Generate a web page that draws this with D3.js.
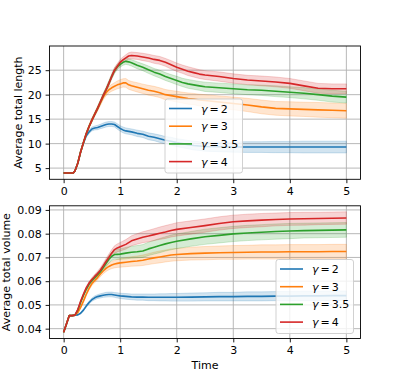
<!DOCTYPE html>
<html>
<head>
<meta charset="utf-8">
<script src="https://cdn.jsdelivr.net/npm/d3@7"></script>
<style>
  body { margin: 0; background: #fff; }
  svg { display: block; font-family: "DejaVu Sans", sans-serif; }
</style>
</head>
<body>
<svg width="399" height="381"></svg>
<script>
// ---- data ----
var gammas = ["2", "3", "3.5", "4"];
var colors = ["#1f77b4", "#ff7f0e", "#2ca02c", "#d62728"];

var tLen = [0, 0.1, 0.17, 0.2, 0.25, 0.3, 0.35, 0.4, 0.45, 0.5, 0.55, 0.6, 0.65, 0.7, 0.75, 0.8, 0.85, 0.9, 0.95, 1.0,
  1.05, 1.1, 1.15, 1.2, 1.3, 1.4, 1.5, 1.6, 1.7, 1.8, 1.9, 2.0, 2.1, 2.2, 2.3, 2.4, 2.5, 2.75, 3.0, 3.25, 3.5, 3.75,
  4.0, 4.25, 4.5, 4.75, 5.0];
var lenG2 = [4, 4, 4, 4.4, 6.0, 8.3, 10.1, 11.6, 12.4, 13.0, 13.2, 13.3, 13.5, 13.7, 13.9, 14.0, 14.0, 13.9, 13.5, 13.1,
  12.8, 12.6, 12.5, 12.4, 12.1, 11.9, 11.5, 11.3, 11.0, 10.7, 10.5, 10.2, 10.0, 9.8, 9.6, 9.5, 9.4, 9.35, 9.3, 9.3, 9.3,
  9.3, 9.3, 9.3, 9.3, 9.3, 9.3];
var lenG3 = [4, 4, 4, 4.4, 6.0, 8.3, 10.2, 12.0, 13.5, 14.8, 16.0, 17.1, 18.3, 19.5, 20.4, 21.0, 21.4, 21.7, 22.0, 22.2,
  22.4, 22.4, 22.0, 21.8, 21.5, 21.2, 20.9, 20.7, 20.4, 20.0, 19.8, 19.6, 19.4, 19.2, 19.1, 18.9, 18.8, 18.5, 18.2, 17.9,
  17.5, 17.2, 17.1, 17.0, 16.9, 16.8, 16.7];
var lenG35 = [4, 4, 4, 4.4, 6.0, 8.3, 10.2, 12.0, 13.5, 14.8, 16.0, 17.2, 18.5, 19.8, 21.0, 22.3, 23.7, 24.9, 25.7, 26.2,
  26.6, 26.8, 26.7, 26.5, 26.0, 25.6, 25.1, 24.6, 24.2, 23.7, 23.3, 22.9, 22.5, 22.2, 22.0, 21.8, 21.6, 21.4, 21.2, 21.0,
  20.9, 20.7, 20.5, 20.3, 20.0, 19.7, 19.5];
var lenG4 = [4, 4, 4, 4.4, 6.0, 8.3, 10.2, 12.0, 13.5, 14.8, 16.0, 17.2, 18.5, 19.8, 21.0, 22.3, 23.7, 25.0, 25.8, 26.6,
  27.1, 27.5, 27.9, 28.0, 27.9, 27.7, 27.5, 27.2, 27.0, 26.6, 26.1, 25.6, 25.2, 24.8, 24.5, 24.2, 24.0, 23.7, 23.3, 23.0,
  22.8, 22.6, 22.3, 21.8, 21.3, 21.2, 21.2];
// half width of the shaded band
var errLenG2 = [0.05, 0.05, 0.05, 0.1, 0.15, 0.2, 0.25, 0.3, 0.35, 0.4, 0.4, 0.45, 0.45, 0.5, 0.5, 0.5, 0.5, 0.5, 0.55, 0.55,
  0.6, 0.6, 0.6, 0.6, 0.65, 0.65, 0.7, 0.7, 0.75, 0.75, 0.8, 0.8, 0.85, 0.85, 0.9, 0.9, 0.95, 1.0, 1.05, 1.1, 1.1, 1.15,
  1.15, 1.2, 1.2, 1.2, 1.2];
var errLenG3 = [0.05, 0.05, 0.05, 0.1, 0.15, 0.2, 0.25, 0.3, 0.35, 0.4, 0.4, 0.45, 0.5, 0.55, 0.6, 0.65, 0.7, 0.75, 0.8, 0.85,
  0.85, 0.9, 0.9, 0.9, 0.95, 0.95, 1.0, 1.0, 1.0, 1.05, 1.05, 1.1, 1.1, 1.15, 1.15, 1.2, 1.2, 1.25, 1.3, 1.35, 1.4, 1.4,
  1.45, 1.45, 1.5, 1.5, 1.5];
var errLenG35 = [0.05, 0.05, 0.05, 0.1, 0.15, 0.2, 0.25, 0.3, 0.3, 0.35, 0.35, 0.4, 0.4, 0.45, 0.45, 0.5, 0.5, 0.55, 0.55, 0.6,
  0.6, 0.6, 0.65, 0.65, 0.7, 0.7, 0.75, 0.75, 0.8, 0.8, 0.8, 0.85, 0.85, 0.9, 0.9, 0.9, 0.95, 0.95, 1.0, 1.0, 1.05, 1.1,
  1.1, 1.15, 1.15, 1.2, 1.2];
var errLenG4 = [0.05, 0.05, 0.05, 0.1, 0.15, 0.2, 0.25, 0.3, 0.3, 0.35, 0.35, 0.4, 0.4, 0.45, 0.45, 0.5, 0.5, 0.55, 0.55, 0.6,
  0.6, 0.65, 0.65, 0.7, 0.7, 0.75, 0.75, 0.8, 0.8, 0.8, 0.85, 0.85, 0.85, 0.9, 0.9, 0.9, 0.9, 0.95, 0.95, 0.95, 1.0, 1.0,
  1.0, 1.0, 1.0, 1.0, 1.0];

var tVol = [0, 0.05, 0.1, 0.15, 0.2, 0.25, 0.3, 0.35, 0.4, 0.45, 0.5, 0.55, 0.6, 0.65, 0.7, 0.75, 0.8, 0.85, 0.9, 0.95,
  1.0, 1.1, 1.2, 1.3, 1.4, 1.5, 1.6, 1.7, 1.8, 1.9, 2.0, 2.25, 2.5, 2.75, 3.0, 3.25, 3.5, 3.75, 4.0, 4.25, 4.5, 4.75, 5.0];
var volG2 = [0.0385, 0.042, 0.0455, 0.0455, 0.0457, 0.0458, 0.0465, 0.0478, 0.0495, 0.0510, 0.0522, 0.0530, 0.0535, 0.0538,
  0.0541, 0.0543, 0.0544, 0.0544, 0.0542, 0.0540, 0.0538, 0.0536, 0.0534, 0.0533, 0.0533, 0.0532, 0.0532, 0.0532, 0.0532,
  0.0532, 0.0532, 0.0533, 0.0534, 0.0535, 0.0535, 0.0536, 0.0536, 0.0537, 0.0537, 0.0538, 0.0538, 0.0539, 0.0539];
var volG3 = [0.0385, 0.042, 0.0455, 0.0455, 0.0457, 0.0468, 0.049, 0.0516, 0.0545, 0.0570, 0.0590, 0.0603, 0.0615, 0.0630,
  0.0643, 0.0654, 0.0662, 0.0668, 0.0672, 0.0675, 0.0677, 0.0680, 0.0683, 0.0685, 0.0688, 0.0693, 0.0698, 0.0702, 0.0706,
  0.0710, 0.0712, 0.0716, 0.0718, 0.0720, 0.0721, 0.0722, 0.0723, 0.0723, 0.0724, 0.0724, 0.0724, 0.0725, 0.0725];
var volG35 = [0.0385, 0.042, 0.0455, 0.0455, 0.0457, 0.0478, 0.051, 0.054, 0.0566, 0.0588, 0.0603, 0.0615, 0.0627, 0.0640,
  0.0657, 0.0675, 0.0692, 0.0705, 0.0712, 0.0713, 0.0714, 0.0718, 0.0722, 0.0724, 0.0727, 0.0736, 0.0743, 0.0750, 0.0757,
  0.0763, 0.0768, 0.0778, 0.0787, 0.0793, 0.0799, 0.0803, 0.0806, 0.0809, 0.0811, 0.0813, 0.0814, 0.0815, 0.0816];
var volG4 = [0.0385, 0.042, 0.0455, 0.0455, 0.0457, 0.048, 0.0515, 0.0545, 0.0572, 0.0592, 0.0607, 0.0620, 0.0632, 0.0646,
  0.0664, 0.0683, 0.0700, 0.0718, 0.0733, 0.0740, 0.0745, 0.0755, 0.0770, 0.0778, 0.0785, 0.0790, 0.0796, 0.0802, 0.0807,
  0.0813, 0.0818, 0.0826, 0.0834, 0.0843, 0.0850, 0.0854, 0.0857, 0.0860, 0.0862, 0.0863, 0.0864, 0.0865, 0.0866];
var errVolG2 = [0.0001, 0.0001, 0.0001, 0.0001, 0.0002, 0.0002, 0.0003, 0.0004, 0.0005, 0.0006, 0.0007, 0.0008, 0.0008,
  0.0009, 0.0009, 0.001, 0.001, 0.001, 0.001, 0.0011, 0.0011, 0.0012, 0.0012, 0.0013, 0.0013, 0.0014, 0.0014, 0.0015,
  0.0015, 0.0016, 0.0016, 0.0017, 0.0017, 0.0018, 0.0018, 0.0019, 0.0019, 0.0019, 0.002, 0.002, 0.002, 0.002, 0.002];
var errVolG3 = [0.0001, 0.0001, 0.0001, 0.0001, 0.0002, 0.0003, 0.0004, 0.0005, 0.0006, 0.0007, 0.0008, 0.0009, 0.001,
  0.0011, 0.0012, 0.0013, 0.0014, 0.0015, 0.0016, 0.0017, 0.0018, 0.0019, 0.002, 0.0021, 0.0022, 0.0023, 0.0024, 0.0025,
  0.0025, 0.0026, 0.0026, 0.0027, 0.0028, 0.0028, 0.0029, 0.0029, 0.003, 0.003, 0.003, 0.003, 0.003, 0.003, 0.003];
var errVolG35 = [0.0001, 0.0001, 0.0001, 0.0001, 0.0002, 0.0003, 0.0004, 0.0005, 0.0006, 0.0007, 0.0008, 0.0009, 0.001,
  0.0011, 0.0012, 0.0014, 0.0016, 0.0018, 0.002, 0.0021, 0.0022, 0.0024, 0.0025, 0.0026, 0.0027, 0.0028, 0.0029, 0.003,
  0.003, 0.0031, 0.0031, 0.0031, 0.0032, 0.0032, 0.0032, 0.0032, 0.0032, 0.0032, 0.0032, 0.0031, 0.0031, 0.0031, 0.0031];
var errVolG4 = [0.0001, 0.0001, 0.0001, 0.0001, 0.0002, 0.0003, 0.0004, 0.0005, 0.0006, 0.0007, 0.0008, 0.0009, 0.001,
  0.0011, 0.0012, 0.0013, 0.0014, 0.0015, 0.0016, 0.0017, 0.0018, 0.002, 0.0021, 0.0022, 0.0023, 0.0024, 0.0025, 0.0026,
  0.0027, 0.0027, 0.0028, 0.0028, 0.0028, 0.0028, 0.0028, 0.0028, 0.0028, 0.0027, 0.0027, 0.0027, 0.0026, 0.0026, 0.0026];

var xTicks = [0, 1, 2, 3, 4, 5];
var lenTicks = [5, 10, 15, 20, 25];
var volTicks = [0.04, 0.05, 0.06, 0.07, 0.08, 0.09];

// ---- layout ----
var svg = d3.select("svg");
var left = 49.5, right = 360.5;
var fontSize = 11;

var x = d3.scaleLinear().domain([-0.25, 5.25]).range([left, right]);

function drawPanel(p) {
  var series = p.values.map(function(v, i) {
    return p.times.map(function(t, j) {
      return {t: t, v: v[j], lo: v[j] - p.errs[i][j], hi: v[j] + p.errs[i][j]};
    });
  });

  // matplotlib style 5% padding on the data range
  var lo = d3.min(series, function(s) { return d3.min(s, function(d) { return d.lo; }); });
  var hi = d3.max(series, function(s) { return d3.max(s, function(d) { return d.hi; }); });
  var pad = (hi - lo) * 0.05;
  var y = d3.scaleLinear().domain([lo - pad, hi + pad]).range([p.bottom, p.top]);

  var g = svg.append("g");

  // grid
  g.append("g").selectAll("line").data(xTicks).enter().append("line")
      .attr("x1", function(d) { return x(d); }).attr("x2", function(d) { return x(d); })
      .attr("y1", p.top).attr("y2", p.bottom)
      .attr("stroke", "#b0b0b0").attr("stroke-width", 0.9);
  g.append("g").selectAll("line").data(p.yTicks).enter().append("line")
      .attr("x1", left).attr("x2", right)
      .attr("y1", function(d) { return y(d); }).attr("y2", function(d) { return y(d); })
      .attr("stroke", "#b0b0b0").attr("stroke-width", 0.9);

  var area = d3.area()
      .x(function(d) { return x(d.t); })
      .y0(function(d) { return y(d.lo); })
      .y1(function(d) { return y(d.hi); });
  var line = d3.line()
      .x(function(d) { return x(d.t); })
      .y(function(d) { return y(d.v); });

  series.forEach(function(s, i) {
    g.append("path").datum(s).attr("d", area)
        .attr("fill", colors[i]).attr("fill-opacity", 0.2)
        .attr("stroke", colors[i]).attr("stroke-opacity", 0.2).attr("stroke-width", 1);
  });
  series.forEach(function(s, i) {
    g.append("path").datum(s).attr("d", line)
        .attr("fill", "none").attr("stroke", colors[i]).attr("stroke-width", 1.6)
        .attr("stroke-linejoin", "round");
  });

  // axes
  var ax = g.append("g").attr("transform", "translate(0," + p.bottom + ")")
      .call(d3.axisBottom(x).tickValues(xTicks).tickFormat(d3.format("d"))
        .tickSize(3.9).tickPadding(3.9).tickSizeOuter(0));
  var ay = g.append("g").attr("transform", "translate(" + left + ",0)")
      .call(d3.axisLeft(y).tickValues(p.yTicks).tickFormat(p.fmt).tickSize(3.9).tickPadding(3.9).tickSizeOuter(0));
  [ax, ay].forEach(function(a) {
    a.select(".domain").remove();
    a.selectAll("line").attr("stroke", "#000").attr("stroke-width", 0.9);
    a.selectAll("text").attr("fill", "#000").style("font-size", fontSize + "px")
        .style("font-family", "DejaVu Sans");
  });

  g.append("rect")
      .attr("x", left).attr("y", p.top)
      .attr("width", right - left).attr("height", p.bottom - p.top)
      .attr("fill", "none").attr("stroke", "#000").attr("stroke-width", 0.9);

  g.append("text")
      .attr("transform", "translate(" + p.labelX + "," + ((p.top + p.bottom) / 2) + ") rotate(-90)")
      .attr("text-anchor", "middle")
      .style("font-size", fontSize + "px")
      .text(p.label);

  // legend
  var lg = g.append("g").attr("transform", "translate(" + p.legX + "," + p.legY + ")");
  lg.append("rect")
      .attr("width", 77.5).attr("height", 74).attr("rx", 2.5)
      .attr("fill", "#fff").attr("fill-opacity", 0.8)
      .attr("stroke", "#cccccc").attr("stroke-width", 0.9);
  gammas.forEach(function(gm, i) {
    var yy = 9.5 + i * 17.7;
    lg.append("line")
        .attr("x1", 4).attr("x2", 27).attr("y1", yy).attr("y2", yy)
        .attr("stroke", colors[i]).attr("stroke-width", 1.6);
    var t = lg.append("text")
        .attr("x", 36).attr("y", yy + 4)
        .style("font-size", fontSize + "px");
    t.append("tspan").style("font-style", "italic").text("\u03b3");
    t.append("tspan").attr("dx", 2).text("=");
    t.append("tspan").attr("dx", 2).text(gm);
  });
}

drawPanel({
  times: tLen,
  values: [lenG2, lenG3, lenG35, lenG4],
  errs: [errLenG2, errLenG3, errLenG35, errLenG4],
  top: 46, bottom: 179.3,
  yTicks: lenTicks, fmt: d3.format("d"),
  label: "Average total length", labelX: 22,
  legX: 165, legY: 99
});

drawPanel({
  times: tVol,
  values: [volG2, volG3, volG35, volG4],
  errs: [errVolG2, errVolG3, errVolG35, errVolG4],
  top: 205.8, bottom: 338.5,
  yTicks: volTicks, fmt: d3.format(".2f"),
  label: "Average total volume", labelX: 10,
  legX: 276, legY: 259.5
});

svg.append("text")
    .attr("x", (left + right) / 2).attr("y", 369)
    .attr("text-anchor", "middle")
    .style("font-size", fontSize + "px")
    .text("Time");
</script>
</body>
</html>
